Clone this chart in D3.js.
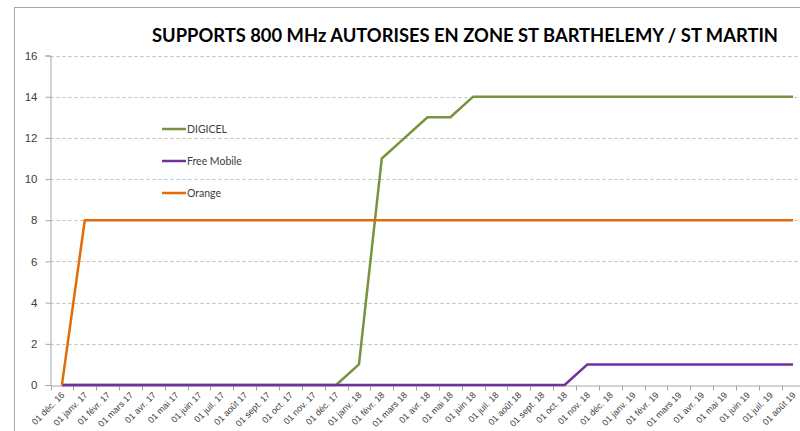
<!DOCTYPE html>
<html>
<head>
<meta charset="utf-8">
<script src="https://cdn.jsdelivr.net/npm/d3@7"></script>
<style>
  body { margin: 0; background: #fff; }
  svg { display: block; font-family: Lato, "Liberation Sans", sans-serif; }
</style>
</head>
<body>
<script>
// données
const months = [
  "01 déc. 16", "01 janv. 17", "01 févr. 17", "01 mars 17", "01 avr. 17", "01 mai 17",
  "01 juin 17", "01 juil. 17", "01 août 17", "01 sept. 17", "01 oct. 17", "01 nov. 17",
  "01 déc. 17", "01 janv. 18", "01 févr. 18", "01 mars 18", "01 avr. 18", "01 mai 18",
  "01 juin 18", "01 juil. 18", "01 août 18", "01 sept. 18", "01 oct. 18", "01 nov. 18",
  "01 déc. 18", "01 janv. 19", "01 févr. 19", "01 mars 19", "01 avr. 19", "01 mai 19",
  "01 juin 19", "01 juil. 19", "01 août 19"
];
const digicel = [0,0,0,0,0,0,0,0,0,0,0,0,0,1,11,12,13,13,14,14,14,14,14,14,14,14,14,14,14,14,14,14,14];
const freeMobile = [0,0,0,0,0,0,0,0,0,0,0,0,0,0,0,0,0,0,0,0,0,0,0,1,1,1,1,1,1,1,1,1,1];
const orange = [0,8,8,8,8,8,8,8,8,8,8,8,8,8,8,8,8,8,8,8,8,8,8,8,8,8,8,8,8,8,8,8,8];
const yTicks = [0, 2, 4, 6, 8, 10, 12, 14, 16];

const series = [
  { name: "DIGICEL", values: digicel, color: "#77933c" },
  { name: "Free Mobile", values: freeMobile, color: "#7030a0" },
  { name: "Orange", values: orange, color: "#e36c09" }
];

const WIDTH = 800;
const HEIGHT = 431;

const svg = d3.select("body")
  .append("svg")
  .attr("width", WIDTH)
  .attr("height", HEIGHT);

// cadre
svg.append("rect")
  .attr("x", 14.5).attr("y", 7.5)
  .attr("width", 800).attr("height", 440)
  .attr("fill", "none")
  .attr("stroke", "#a6a6a6");

svg.append("text")
  .attr("x", 152).attr("y", 42)
  .attr("textLength", 626)
  .attr("lengthAdjust", "spacingAndGlyphs")
  .style("font-size", "19px")
  .style("font-weight", "bold")
  .attr("fill", "#000")
  .text("SUPPORTS 800 MHz AUTORISES EN ZONE ST BARTHELEMY / ST MARTIN");

const x = d3.scaleBand().domain(months).range([50.5, 804.5]).padding(0);
const y = d3.scaleLinear().domain([0, 16]).range([385, 55.5]);
const cx = (d) => x(d) + x.bandwidth() / 2;

// grille
svg.append("g")
  .selectAll("line")
  .data(yTicks.filter((t) => t > 0))
  .enter()
  .append("line")
  .attr("x1", 50.5).attr("x2", 800)
  .attr("y1", (t) => Math.round(y(t)) + 0.5)
  .attr("y2", (t) => Math.round(y(t)) + 0.5)
  .attr("stroke", "#bfbfbf")
  .attr("stroke-dasharray", "3,3");

// axe Y
const yAxis = svg.append("g")
  .attr("transform", "translate(50.5,0)")
  .call(d3.axisLeft(y).tickValues(yTicks).tickSize(5).tickPadding(8));
yAxis.select(".domain").attr("stroke", "#a6a6a6");
yAxis.selectAll(".tick line").attr("stroke", "#a6a6a6");
yAxis.selectAll("text")
  .style("font-size", "11.5px")
  .attr("fill", "#404040");

// axe X
const xAxis = svg.append("g")
  .attr("transform", "translate(0,385.5)")
  .call(d3.axisBottom(x).tickSize(0));
xAxis.select(".domain").attr("stroke", "#a6a6a6");
xAxis.selectAll(".tick text")
  .attr("x", 0).attr("y", 0).attr("dy", "0.35em")
  .attr("transform", "translate(1,8) rotate(-45)")
  .attr("text-anchor", "end")
  .style("font-size", "9px")
  .attr("fill", "#404040");
xAxis.append("g")
  .selectAll("line")
  .data(months.map((m) => x(m)).concat([804.5]))
  .enter()
  .append("line")
  .attr("x1", (v) => Math.round(v) + 0.5)
  .attr("x2", (v) => Math.round(v) + 0.5)
  .attr("y1", 0).attr("y2", 5)
  .attr("stroke", "#a6a6a6");

// courbes
const line = d3.line()
  .x((v, i) => cx(months[i]))
  .y((v) => y(v));

svg.append("g")
  .selectAll("path")
  .data(series)
  .enter()
  .append("path")
  .attr("d", (s) => line(s.values))
  .attr("fill", "none")
  .attr("stroke", (s) => s.color)
  .attr("stroke-width", 2.5)
  .attr("stroke-linejoin", "round");

// légende
const legend = svg.append("g")
  .selectAll("g")
  .data(series)
  .enter()
  .append("g")
  .attr("transform", (s, i) => `translate(162,${129 + i * 32})`);
legend.append("line")
  .attr("x1", 0).attr("x2", 24)
  .attr("stroke", (s) => s.color)
  .attr("stroke-width", 2.5);
legend.append("text")
  .attr("x", 25).attr("dy", "0.35em")
  .style("font-size", "10.5px")
  .attr("fill", "#404040")
  .text((s) => s.name);
</script>
</body>
</html>
